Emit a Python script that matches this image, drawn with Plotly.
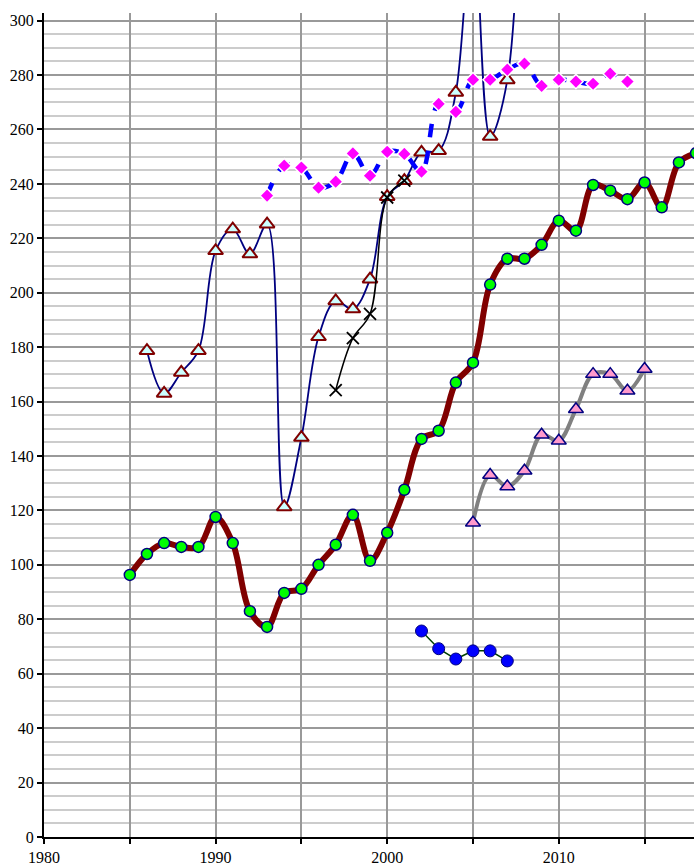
import plotly.graph_objects as go

# ---- data ----
years_main = list(range(1985, 2019))
main_values = [96.3, 104, 108, 106.6, 106.6, 117.6, 108, 83, 77.2, 89.7, 91.2, 100, 107.4,
               118.4, 101.5, 111.8, 127.6, 146.3, 149.3, 167, 174.3, 203, 212.5, 212.5,
               217.6, 226.5, 222.8, 239.6, 237.5, 234.4, 240.5, 231.4, 247.9, 251.3]

years_tri = list(range(1986, 2009))
tri_values = [178.7, 163, 170.7, 178.7, 215.4, 223.4, 214.2, 225.2, 121.3, 146.8, 183.8,
              197, 194, 205, 235.3, 241.2, 251.6, 252.2, 273.6, 340, 257.4, 278.2, 420]

years_dia = list(range(1993, 2015))
dia_values = [235.7, 246.7, 246, 238.6, 240.8, 251.2, 243, 251.8, 251, 244.5, 269.4,
              266.5, 278.3, 278.3, 282, 284.2, 276, 278.3, 277.6, 276.8, 280.5, 277.6]

years_x = [1997, 1998, 1999, 2000, 2001]
x_values = [164.2, 183.3, 192.2, 235.0, 241.2]

years_pink = list(range(2005, 2016))
pink_values = [115.5, 133, 128.8, 134.6, 147.8, 145.6, 157.2, 170.1, 170.1, 164, 172]

years_blue = list(range(2002, 2008))
blue_values = [75.7, 69.2, 65.4, 68.4, 68.4, 64.7]

x_tickvals = list(range(1980, 2020, 5))
x_ticktext = [str(v) if v % 10 == 0 else "" for v in x_tickvals]
y_tickvals = list(range(0, 301, 20))

fig = go.Figure()

fig.add_trace(go.Scatter(
    x=years_pink, y=pink_values, mode="lines+markers",
    line=dict(color="#808080", width=4, shape="spline", smoothing=1),
    marker=dict(symbol="triangle-up", size=13, color="#ff99cc",
                line=dict(color="#000080", width=1.5)),
    showlegend=False))

fig.add_trace(go.Scatter(
    x=years_blue, y=blue_values, mode="lines+markers",
    line=dict(color="#004000", width=1.5),
    marker=dict(symbol="circle", size=12, color="#0000ff",
                line=dict(color="#000080", width=1)),
    showlegend=False))

fig.add_trace(go.Scatter(
    x=years_main, y=main_values, mode="lines+markers",
    line=dict(color="#800000", width=6, shape="spline", smoothing=1),
    marker=dict(symbol="circle", size=11, color="#00ff00",
                line=dict(color="#000080", width=1.5)),
    showlegend=False))

fig.add_trace(go.Scatter(
    x=years_tri, y=tri_values, mode="lines+markers",
    line=dict(color="#000080", width=1.8, shape="spline", smoothing=1),
    marker=dict(symbol="triangle-up", size=13, color="#ccffff",
                line=dict(color="#800000", width=2)),
    cliponaxis=True, showlegend=False))

fig.add_trace(go.Scatter(
    x=years_dia, y=dia_values, mode="lines+markers",
    line=dict(color="#0000ff", width=4.5, shape="spline", smoothing=1, dash="dash"),
    marker=dict(symbol="diamond", size=11, color="#ff00ff",
                line=dict(color="#ffffff", width=1.5)),
    showlegend=False))

fig.add_trace(go.Scatter(
    x=years_x, y=x_values, mode="lines+markers",
    line=dict(color="#000000", width=1.5, shape="spline", smoothing=1),
    marker=dict(symbol="x-thin", size=12, color="#000000",
                line=dict(color="#000000", width=1.8)),
    showlegend=False))

fig.update_layout(
    width=694, height=866,
    margin=dict(l=44, r=0, t=13, b=29),
    paper_bgcolor="white", plot_bgcolor="white",
    font=dict(family="Liberation Serif, Times New Roman, serif", size=16, color="black"),
    xaxis=dict(
        range=[1980, 2017.88], tickvals=x_tickvals, ticktext=x_ticktext,
        showgrid=True, gridcolor="#999999", gridwidth=1.5,
        showline=True, linecolor="black", linewidth=2,
        ticks="outside", ticklen=5, tickcolor="black", tickwidth=1.5,
        zeroline=False, tickfont=dict(size=16), automargin=False,
        ticklabelstandoff=0),
    yaxis=dict(
        range=[0, 302.8], tickvals=y_tickvals,
        showgrid=True, gridcolor="#999999", gridwidth=1.5,
        minor=dict(dtick=5, tick0=0, showgrid=True, gridcolor="#cccccc", gridwidth=1.5),
        showline=True, linecolor="black", linewidth=2,
        ticks="outside", ticklen=5, tickcolor="black", tickwidth=1.5,
        zeroline=False, tickfont=dict(size=16), automargin=False,
        ticklabelstandoff=0),
)

fig.write_html("out.html",
               config={"displayModeBar": False},
               post_script="document.body.style.margin='0';document.body.style.overflow='hidden';")
